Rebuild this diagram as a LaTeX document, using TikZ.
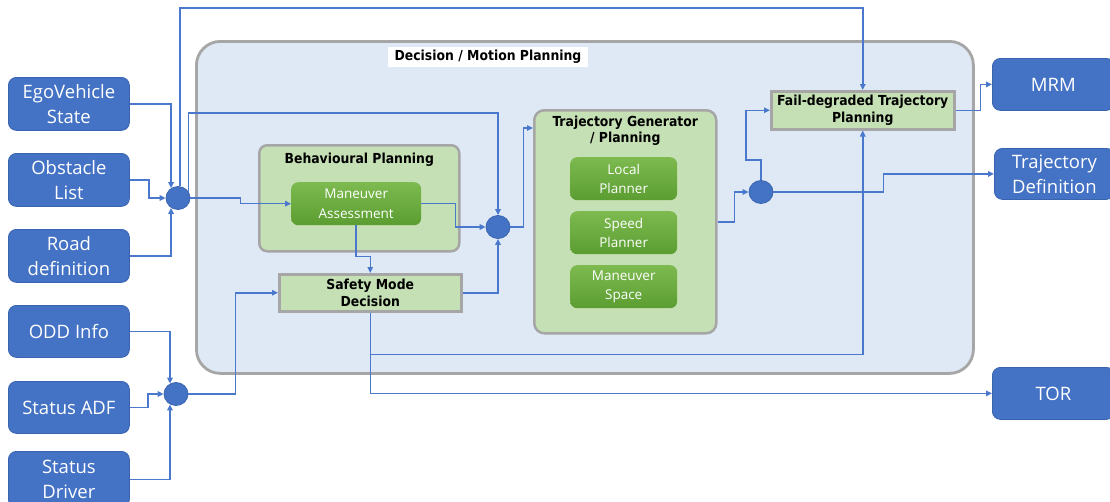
\documentclass[tikz,border=0pt]{standalone}
\usepackage{fontspec}
\setmainfont{Open Sans}
\newfontfamily\headfont{DejaVu Sans Condensed}
\usetikzlibrary{arrows.meta,calc}
\definecolor{bluebox}{HTML}{4472C4}
\definecolor{blueedge}{HTML}{3A64AE}
\definecolor{line}{HTML}{4A78CC}
\definecolor{outerfill}{HTML}{DEE9F5}
\definecolor{grayedge}{HTML}{A6A6A6}
\definecolor{lightgreen}{HTML}{C5E0B4}
\definecolor{gtop}{HTML}{7DBA4F}
\definecolor{gbot}{HTML}{5B9D31}
\tikzset{
  iobox/.style={draw=blueedge, line width=0.8pt, fill=bluebox, rounded corners=8pt, text=white,
    align=center, anchor=north west, inner sep=0pt, font=\fontsize{18.5}{25}\selectfont},
  greenbox/.style={draw=grayedge, line width=2.5pt, fill=lightgreen, align=center, anchor=north west, inner sep=0pt},
  subbox/.style={rounded corners=7pt, top color=gtop, bottom color=gbot, text=white, align=center,
    anchor=north west, inner sep=0pt, minimum width=107pt, minimum height=43pt, font=\fontsize{13.5}{19.5}\selectfont},
  head/.style={font=\headfont\bfseries\fontsize{13.8}{16.5}\selectfont, align=center, text=black},
  junc/.style={ellipse, fill=bluebox, draw=blueedge, line width=0.8pt, minimum width=24pt, minimum height=23pt, inner sep=0pt},
  conn/.style={draw=line, line width=1.5pt, -{Triangle[length=6pt,width=5.5pt]}},
}
\usetikzlibrary{shapes.geometric}
\begin{document}
\begin{tikzpicture}[x=1pt,y=-1pt]
\useasboundingbox (0,0) rectangle (1110,501);
% outer box
\node[draw=grayedge, line width=2.8pt, fill=outerfill, rounded corners=24pt, anchor=north west,
  minimum width=777pt, minimum height=332pt, inner sep=0pt] (outer) at (195,40) {};
\node[fill=white, head, minimum width=200pt, minimum height=20pt, inner sep=0pt] (title) at (488,57) {Decision / Motion Planning};
% input boxes
\node[iobox, minimum width=121pt, minimum height=53pt] (ego) at (8,77) {EgoVehicle\\State};
\node[iobox, minimum width=121pt, minimum height=53pt] (obs) at (8,153) {Obstacle\\List};
\node[iobox, minimum width=121pt, minimum height=53pt] (road) at (8,229) {Road\\definition};
\node[iobox, minimum width=121pt, minimum height=52pt] (odd) at (8,305) {ODD Info};
\node[iobox, minimum width=121pt, minimum height=52pt] (adf) at (8,381) {Status ADF};
\node[iobox, minimum width=121pt, minimum height=56pt] (drv) at (8,451) {Status\\Driver};
% output boxes
\node[iobox, minimum width=122pt, minimum height=52pt] (mrm) at (992,58) {MRM};
\node[iobox, minimum width=120pt, minimum height=51pt] (td) at (994,148) {Trajectory\\Definition};
\node[iobox, minimum width=122pt, minimum height=52pt] (tor) at (992,367) {TOR};
% behavioural planning
\node[greenbox, rounded corners=8pt, minimum width=200pt, minimum height=106pt] (bp) at (258,144) {};
\node[head] (bptitle) at (bp.north) [yshift=-16pt] {Behavioural Planning};
\node[subbox, minimum width=130pt] (ma) at (291,182) {Maneuver\\Assessment};
% safety mode
\node[greenbox, minimum width=182pt, minimum height=37pt, head] (sm) at (278,273) {Safety Mode\\Decision};
% trajectory generator
\node[greenbox, rounded corners=10pt, minimum width=182pt, minimum height=223pt] (tg) at (533,109) {};
\node[head, anchor=north] (tgtitle) at ($(tg.north)+(0,3)$) {Trajectory Generator\\/ Planning};
\node[subbox] (lp) at (570,157) {Local\\Planner};
\node[subbox] (sp) at (570,211) {Speed\\Planner};
\node[subbox] (ms) at (570,265) {Maneuver\\Space};
% fail-degraded
\node[greenbox, minimum width=183pt, minimum height=38pt, head] (fail) at (770,90) {Fail-degraded Trajectory\\Planning};
% junctions
\node[junc] (j1) at (178,198) {};
\node[junc] (j2) at (176,394) {};
\node[junc] (j3) at (498,227) {};
\node[junc] (j4) at (761,192) {};
\coordinate (topy) at (0,8);
\coordinate (l2y) at (0,113);
% connectors
\draw[conn] (ego.east) -| (j1.125);
\draw[conn] (obs.east) -- ++(19,0) |- (j1.west);
\draw[conn] (road.east) -| (j1.235);
\draw[conn] (odd.east) -| (j2.120);
\draw[conn] (adf.east) -- ++(18,0) |- (j2.west);
\draw[conn] (drv.east) -| (j2.240);
\draw[conn] (j1.80) -- (j1.80 |- topy) -| (fail.north);
\draw[conn] (j1.30) -- (j1.30 |- l2y) -| (j3.north);
\draw[conn] (j1.east) -- ++(50,0) |- (ma.west);
\draw[conn] (ma.east) -- ++(34,0) |- (j3.west);
\draw[conn] (ma.south) -- ++(0,31) -| (sm.north);
\draw[conn] (sm.east) -| (j3.south);
\draw[conn] (j2.east) -- ++(47,0) |- (sm.west);
\draw[conn] (j3.east) -- ++(13,0) |- ($(tg.north west)+(0,19)$);
\draw[conn] (tg.east) -- ++(17,0) |- (j4.west);
\draw[conn] (j4.north) -- ++(0,-20) -- ++(-15,0) |- (fail.west);
\draw[conn] (j4.east) -- ++(110,0) |- (td.west);
\draw[conn] (fail.east) -- ++(25,0) |- (mrm.west);
\draw[conn] (sm.south) -- ++(0,42) -| (fail.south);
\draw[conn] (sm.south) |- (tor.west);
\end{tikzpicture}
\end{document}
